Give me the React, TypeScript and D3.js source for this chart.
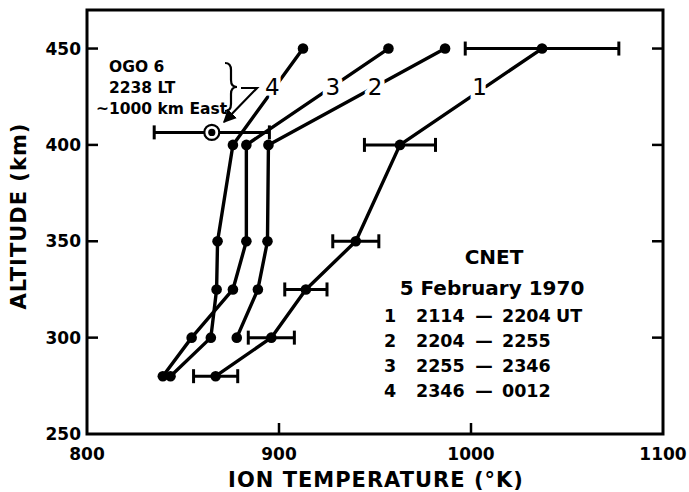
import React from 'react';
import * as d3 from 'd3';

// CNET incoherent scatter profiles, 5 February 1970
const seriesNames = ['1', '2', '3', '4'];
const alt1 = [280, 300, 325, 350, 400, 450];
const temp1 = [867, 896, 914, 940, 963, 1037];
const err1 = [11.5, 12, 11, 12, 18.5, 40];
const alt2 = [300, 325, 350, 400, 450];
const temp2 = [878, 889, 894, 894.5, 986.5];
const alt3 = [280, 300, 325, 350, 400, 450];
const temp3 = [839.5, 854.5, 876, 883, 883, 957];
const alt4 = [280, 300, 325, 350, 400, 450];
const temp4 = [843.5, 864.5, 867.5, 868, 876, 912.5];

// OGO 6 satellite point
const ogoTemp = 865;
const ogoAlt = 406.5;
const ogoErr = 30;

const xTicks = [800, 900, 1000, 1100];
const yTicks = [250, 300, 350, 400, 450];
const legendRows = [
  ['1', '2114', '2204', 'UT'],
  ['2', '2204', '2255', ''],
  ['3', '2255', '2346', ''],
  ['4', '2346', '0012', ''],
];

const W = 689;
const H = 492;
const margin = { left: 87, right: 26, top: 10, bottom: 58 };
const font = '"DejaVu Sans", Verdana, sans-serif';

export default function App() {
  const x = d3.scaleLinear().domain([800, 1100]).range([margin.left, W - margin.right]);
  const y = d3.scaleLinear().domain([250, 470]).range([H - margin.bottom, margin.top]);

  const line = d3
    .line<[number, number]>()
    .x(d => x(d[0]))
    .y(d => y(d[1]));

  const series = [
    { temps: temp1, alts: alt1 },
    { temps: temp2, alts: alt2 },
    { temps: temp3, alts: alt3 },
    { temps: temp4, alts: alt4 },
  ];

  const x0 = x(800), x1 = x(1100), y0 = y(250), y1 = y(470);
  const cap = 7;

  // where the curve numbers sit (data units)
  const labelPos: [number, number][] = [[1004.5, 430], [950, 430], [928, 430], [896.5, 430]];

  const ox = x(ogoTemp), oy = y(ogoAlt);

  return (
    <svg width={W} height={H} style={{ position: 'absolute', left: 0, top: 0, background: '#fff' }}
      fontFamily={font} fontWeight="bold">
      <defs>
        <marker id="arr" viewBox="0 0 10 10" refX="9" refY="5" markerWidth="6" markerHeight="6" orient="auto">
          <path d="M0,0 L10,5 L0,10 z" fill="#000" />
        </marker>
      </defs>

      {/* frame */}
      <rect x={x0} y={y1} width={x1 - x0} height={y0 - y1} fill="none" stroke="#000" strokeWidth={3} />

      {/* ticks */}
      {yTicks.filter(t => t > 250).map(t => (
        <g key={'yt' + t}>
          <line x1={x0} x2={x0 + 11} y1={y(t)} y2={y(t)} stroke="#000" strokeWidth={2.5} />
          <line x1={x1} x2={x1 - 11} y1={y(t)} y2={y(t)} stroke="#000" strokeWidth={2.5} />
        </g>
      ))}
      {xTicks.filter(t => t > 800 && t < 1100).map(t => (
        <line key={'xt' + t} x1={x(t)} x2={x(t)} y1={y0} y2={y0 - 11} stroke="#000" strokeWidth={2.5} />
      ))}

      {/* tick labels */}
      {yTicks.map(t => (
        <text key={'yl' + t} x={x0 - 6} y={y(t)} dy="0.36em" textAnchor="end" fontSize={17}>{t}</text>
      ))}
      {xTicks.map(t => (
        <text key={'xl' + t} x={x(t)} y={y0 + 26} textAnchor="middle" fontSize={17}>{t}</text>
      ))}

      {/* axis titles */}
      <text x={376} y={487} textAnchor="middle" fontSize={21} letterSpacing={1}>
        ION TEMPERATURE (°K)
      </text>
      <text transform={`translate(26,216) rotate(-90)`} textAnchor="middle" fontSize={21} letterSpacing={1}>
        ALTITUDE (km)
      </text>

      {/* error bars for profile 1 */}
      {alt1.map((a, i) => (
        <g key={'eb' + i} stroke="#000" strokeWidth={3}>
          <line x1={x(temp1[i] - err1[i])} x2={x(temp1[i] + err1[i])} y1={y(a)} y2={y(a)} />
          <line x1={x(temp1[i] - err1[i])} x2={x(temp1[i] - err1[i])} y1={y(a) - cap} y2={y(a) + cap} />
          <line x1={x(temp1[i] + err1[i])} x2={x(temp1[i] + err1[i])} y1={y(a) - cap} y2={y(a) + cap} />
        </g>
      ))}

      {/* profiles */}
      {series.map((s, k) => {
        const pts = s.temps.map((t, i) => [t, s.alts[i]] as [number, number]);
        return (
          <g key={'s' + k}>
            <path d={line(pts) || ''} fill="none" stroke="#000" strokeWidth={3.4} strokeLinejoin="round" />
            {pts.map((p, i) => (
              <circle key={i} cx={x(p[0])} cy={y(p[1])} r={5.3} fill="#000" />
            ))}
          </g>
        );
      })}

      {/* OGO 6 point */}
      <g stroke="#000" strokeWidth={3}>
        <line x1={x(ogoTemp - ogoErr)} x2={x(ogoTemp + ogoErr)} y1={oy} y2={oy} />
        <line x1={x(ogoTemp - ogoErr)} x2={x(ogoTemp - ogoErr)} y1={oy - cap} y2={oy + cap} />
        <line x1={x(ogoTemp + ogoErr)} x2={x(ogoTemp + ogoErr)} y1={oy - cap} y2={oy + cap} />
      </g>
      <circle cx={ox} cy={oy} r={7.5} fill="#fff" stroke="#000" strokeWidth={2.2} />
      <circle cx={ox} cy={oy} r={3.6} fill="#000" />

      {/* curve numbers */}
      {seriesNames.map((n, k) => (
        <text key={'n' + n} x={x(labelPos[k][0])} y={y(labelPos[k][1])} dy="0.36em" textAnchor="middle"
          fontSize={23} fontWeight="normal" stroke="#fff" strokeWidth={9} paintOrder="stroke"
          fill="#000">{n}</text>
      ))}

      {/* OGO annotation */}
      <g fontSize={15.5}>
        <text x={109} y={72}>OGO 6</text>
        <text x={109} y={93}>2238 LT</text>
        <text x={96} y={114}>~1000 km East</text>
      </g>
      <path d="M225,63 Q231,63 231,70 L231,80 Q231,87 237,87 Q231,87 231,94 L231,104 Q231,111 225,111"
        fill="none" stroke="#000" strokeWidth={2.2} />
      <path d="M241,88 L257,88 L224,122" fill="none" stroke="#000" strokeWidth={2.2} markerEnd="url(#arr)" />

      {/* legend */}
      <text x={494} y={264} textAnchor="middle" fontSize={20}>CNET</text>
      <text x={492} y={295} textAnchor="middle" fontSize={20}>5 February 1970</text>
      {legendRows.map((r, i) => (
        <g key={'lg' + i} fontSize={17.5}>
          <text x={390} y={322 + i * 25} textAnchor="middle">{r[0]}</text>
          <text x={416} y={322 + i * 25}>{r[1]}</text>
          <text x={484} y={322 + i * 25} textAnchor="middle">—</text>
          <text x={502} y={322 + i * 25}>{r[2]}</text>
          {r[3] && <text x={556} y={322 + i * 25}>{r[3]}</text>}
        </g>
      ))}
    </svg>
  );
}
